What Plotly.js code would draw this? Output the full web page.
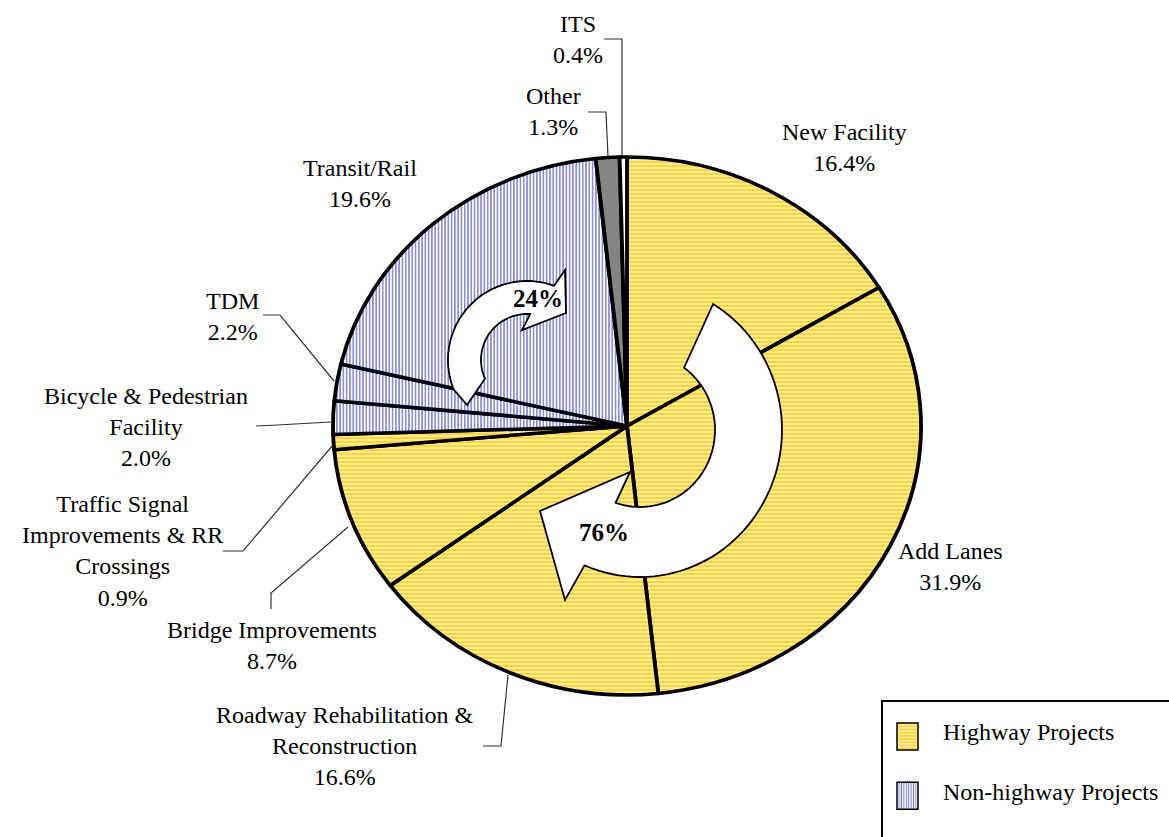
<!DOCTYPE html>
<html><head><meta charset="utf-8">
<script src="https://cdn.plot.ly/plotly-3.0.1.min.js"></script>
<style>html,body{margin:0;padding:0;background:#fff;} #chart{width:1169px;height:837px;}</style>
</head><body><div id="chart"></div>
<script>
// ---------- data ----------
const categories = ["New Facility","Add Lanes","Roadway Rehabilitation & Reconstruction","Bridge Improvements","Traffic Signal Improvements & RR Crossings","Bicycle & Pedestrian Facility","TDM","Transit/Rail","Other","ITS"];
const labelLines = ["New Facility","Add Lanes","Roadway Rehabilitation &<br>Reconstruction","Bridge Improvements","Traffic Signal<br>Improvements & RR<br>Crossings","Bicycle & Pedestrian<br>Facility","TDM","Transit/Rail","Other","ITS"];
const shares = [16.4,31.9,16.6,8.7,0.9,2.0,2.2,19.6,1.3,0.4];
const groups = ["highway","highway","highway","highway","highway","non","non","non","other","its"];
const groupTotals = ["76%","24%"];
const legendNames = ["Highway Projects","Non-highway Projects"];

// ---------- styles / layout helpers ----------
const W = 1169, H = 837;
const FONT = "Liberation Serif";
const groupStyle = {
  highway: {bg:"#FFEC98", fg:"#FFCC10", shape:"-", size:4, sol:0.35},
  non:     {bg:"#FFFFFF", fg:"#7070D8", shape:"|", size:3, sol:0.4},
  other:   {bg:"#858585", fg:"#858585", shape:"",  size:4, sol:0.3},
  its:     {bg:"#FFFFFF", fg:"#FFFFFF", shape:"",  size:4, sol:0.3}
};
// pie geometry (pixels)
const CX = 627, CY = 426, RY = 269, RX = 294;
// label positions (pixels) in category order
const labelX = [844,950,345,272,122,146,232,360,553,578];
const labelY = [147,566,746,645,551,427,316,183,111,39];
// leader lines (pixels)
const leaders = [
  [[604,39],[622,39],[622,156]],
  [[588,112],[606,112],[608,157]],
  [[263,315],[280,315],[334,381]],
  [[256,426],[277,425],[331,422]],
  [[223,551],[243,551],[333,445]],
  [[271,609],[271,593],[348,527]],
  [[483,746],[501,746],[508,675]]
];

function arc(cx,cy,rx,ry,a0,a1,n){
  const pts=[];
  for(let i=0;i<=n;i++){
    const t=(a0+(a1-a0)*i/n)*Math.PI/180;
    pts.push([cx+rx*Math.sin(t), cy-ry*Math.cos(t)]);
  }
  return pts;
}
function toPath(pts){
  return pts.map((p,i)=>(i?'L':'M')+p[0].toFixed(1)+','+p[1].toFixed(1)).join(' ')+' Z';
}
function lineP(pts){
  return pts.map((p,i)=>(i?'L':'M')+p[0]+','+p[1]).join(' ');
}
// 76% arrow
const arrow76 = [].concat(
  arc(640,430,142,147,31,203,60),
  [[565,600],[540,511],[630,472]],
  arc(640,430,75,77,199,36,50)
);
// 24% arrow
const arrow24 = [].concat(
  [[467,405]],
  arc(527,360,79,79,248,380,50),
  [[565,270],[566,313],[522,330]],
  arc(527,360,46,46,364,246,40)
);

const pieTrace = {
  type:"pie",
  labels: categories,
  values: shares,
  sort:false, direction:"clockwise", rotation:0,
  textinfo:"none", hoverinfo:"none", showlegend:false,
  domain:{x:[(CX-RY)/W,(CX+RY)/W], y:[1-(CY+RY)/H, 1-(CY-RY)/H]},
  marker:{
    colors: groups.map(g=>groupStyle[g].bg),
    line:{color:"#000", width:3.5},
    pattern:{
      shape: groups.map(g=>groupStyle[g].shape),
      fgcolor: groups.map(g=>groupStyle[g].fg),
      bgcolor: groups.map(g=>groupStyle[g].bg),
      size: groups.map(g=>groupStyle[g].size),
      solidity: groups.map(g=>groupStyle[g].sol),
      fillmode:"replace"
    }
  }
};
const legendTraces = ["highway","non"].map((g,i)=>({
  type:"bar", x:[null], y:[null], name: legendNames[i], legendgroup:g,
  marker:{color:groupStyle[g].bg, line:{color:"#000",width:1.5},
    pattern:{shape:groupStyle[g].shape, fgcolor:groupStyle[g].fg, bgcolor:groupStyle[g].bg, size:groupStyle[g].size, solidity:groupStyle[g].sol}},
  hoverinfo:"skip"
}));

const annotations = categories.map((c,i)=>({
  x:labelX[i], y:labelY[i], xref:"x", yref:"y", showarrow:false,
  text: labelLines[i]+"<br>"+shares[i].toFixed(1)+"%",
  font:{family:FONT,size:24,color:"#000"}, align:"center", xanchor:"center", yanchor:"middle"
}));
annotations.push({x:604,y:532,xref:"x",yref:"y",showarrow:false,text:"<b>"+groupTotals[0]+"</b>",font:{family:FONT,size:25,color:"#000"}});
annotations.push({x:538,y:298,xref:"x",yref:"y",showarrow:false,text:"<b>"+groupTotals[1]+"</b>",font:{family:FONT,size:25,color:"#000"}});

const shapes = [];
leaders.forEach(l=>shapes.push({type:"path",xref:"x",yref:"y",path:lineP(l),line:{color:"#333",width:1.2},layer:"above"}));
shapes.push({type:"path",xref:"x",yref:"y",path:toPath(arrow76),fillcolor:"#fff",line:{color:"#000",width:1.8},layer:"above"});
shapes.push({type:"path",xref:"x",yref:"y",path:toPath(arrow24),fillcolor:"#fff",line:{color:"#000",width:1.8},layer:"above"});
shapes.push({type:"rect",xref:"x",yref:"y",x0:882,y0:701,x1:1180,y1:850,line:{color:"#000",width:2},fillcolor:"rgba(0,0,0,0)",layer:"above"});

const layout = {
  width:W, height:H, margin:{l:0,r:0,t:0,b:0},
  paper_bgcolor:"#fff", plot_bgcolor:"rgba(0,0,0,0)",
  font:{family:FONT},
  xaxis:{range:[0,W], visible:false, fixedrange:true},
  yaxis:{range:[H,0], visible:false, fixedrange:true},
  showlegend:true,
  legend:{x:895/W, y:1-709/H, xanchor:"left", yanchor:"top", itemwidth:38, font:{family:FONT,size:24,color:"#000"},
    bgcolor:"rgba(0,0,0,0)", borderwidth:0, traceorder:"grouped", tracegroupgap:25},
  annotations, shapes
};

Plotly.newPlot("chart",[pieTrace].concat(legendTraces),layout,{staticPlot:true}).then(gd=>{
  const pl = gd.querySelector(".pielayer");
  if(pl) pl.setAttribute("transform",`translate(${CX},0) scale(${RX/RY},1) translate(${-CX},0)`);
  gd.querySelectorAll(".legend .legendpoints path").forEach(p=>{
    p.setAttribute("transform","translate(12.5,0)");
    p.setAttribute("d","M10.5,19H-10.5V-8H10.5Z");
  });
});
</script>
</body></html>
